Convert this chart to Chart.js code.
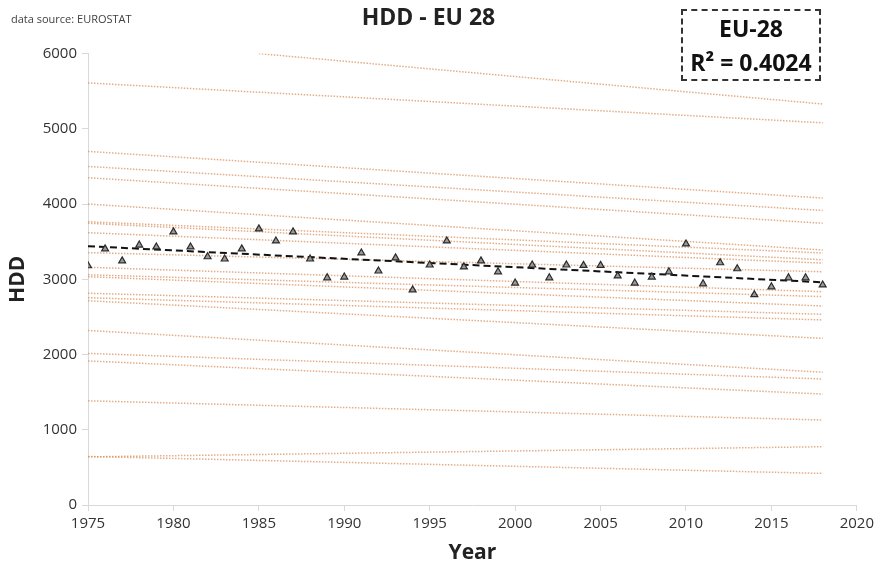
<!DOCTYPE html>
<html>
<head>
<meta charset="utf-8">
<title>HDD - EU 28</title>
<script src="https://cdn.jsdelivr.net/npm/chart.js"></script>
<style>
  body { margin: 0; background: #fff; }
  #wrap { position: relative; width: 878px; height: 568px; }
  #source {
    position: absolute; left: 11px; top: 11px;
    font: 11px 'Open Sans', sans-serif; color: #404040;
  }
  #rbox {
    position: absolute; left: 681px; top: 9px; width: 136px; height: 68px;
    border: 2px dashed #333; text-align: center;
    font-family: 'Open Sans', sans-serif; font-weight: bold;
    font-size: 23px; line-height: 34px; color: #111;
  }
</style>
</head>
<body>
<div id="wrap">
  <canvas id="chart"></canvas>
  <div id="source">data source: EUROSTAT</div>
  <div id="rbox">EU-28<br>R² = 0.4024</div>
</div>
<script>
'use strict';

// EU-28 heating degree days per year
var years = [1975, 1976, 1977, 1978, 1979, 1980, 1981, 1982, 1983, 1984,
  1985, 1986, 1987, 1988, 1989, 1990, 1991, 1992, 1993, 1994,
  1995, 1996, 1997, 1998, 1999, 2000, 2001, 2002, 2003, 2004,
  2005, 2006, 2007, 2008, 2009, 2010, 2011, 2012, 2013, 2014,
  2015, 2016, 2017, 2018];
var hdd = [3180, 3405, 3245, 3455, 3430, 3630, 3430, 3300, 3270, 3405,
  3670, 3510, 3630, 3270, 3020, 3030, 3350, 3110, 3285, 2860,
  3190, 3510, 3165, 3245, 3100, 2950, 3190, 3020, 3190, 3185,
  3185, 3045, 2950, 3030, 3100, 3470, 2940, 3220, 3140, 2795,
  2900, 3020, 3020, 2925];

// EU-28 linear trend (start / end)
var trendYears = [1975, 2018];
var trendValues = [3440, 2960];

// country trend lines, start year / start value / end value (end year 2018)
var countryStartYears = [1985, 1975, 1975, 1975, 1975, 1975, 1975, 1975, 1975, 1975,
  1975, 1975, 1975, 1975, 1975, 1975, 1975, 1975, 1975, 1975, 1975, 1975];
var countryStart = [6000, 5610, 4700, 4500, 4350, 4000, 3765, 3745, 3620, 3355,
  3160, 3060, 3035, 2815, 2755, 2715, 2320, 2015, 1915, 1385, 640, 645];
var countryEnd = [5330, 5080, 4080, 3915, 3745, 3390, 3350, 3260, 3215, 3100,
  2835, 2770, 2645, 2535, 2460, 2215, 1765, 1675, 1475, 1130, 775, 420];
var countryEndYear = 2018;

var datasets = [];

datasets.push({
  label: 'HDD',
  data: years.map(function(y, i) { return {x: y, y: hdd[i]}; }),
  showLine: false,
  pointStyle: 'triangle',
  pointRadius: 4,
  pointBackgroundColor: '#999',
  pointBorderColor: '#2b2b2b',
  pointBorderWidth: 1.2
});

datasets.push({
  label: 'Trend',
  data: trendYears.map(function(y, i) { return {x: y, y: trendValues[i]}; }),
  showLine: true,
  borderColor: '#111',
  borderWidth: 2,
  borderDash: [7, 4],
  pointRadius: 0
});

countryStart.forEach(function(v, i) {
  datasets.push({
    label: 'country ' + i,
    data: [{x: countryStartYears[i], y: v}, {x: countryEndYear, y: countryEnd[i]}],
    showLine: true,
    borderColor: 'rgba(218, 145, 95, 0.75)',
    borderWidth: 1.5,
    borderDash: [1.5, 1.5],
    pointRadius: 0
  });
});

var axisColor = '#d9d9d9';
var tickFont = {family: "'Open Sans', sans-serif", size: 15};
var titleFont = {family: "'Open Sans', sans-serif", size: 23, weight: 'bold'};
var axisTitleFont = {family: "'Open Sans', sans-serif", size: 21, weight: 'bold'};

new Chart(document.getElementById('chart'), {
  type: 'scatter',
  data: {datasets: datasets},
  options: {
    responsive: true,
    maintainAspectRatio: false,
    animation: false,
    layout: {padding: {left: 0, right: 21, top: 0, bottom: 0}},
    plugins: {
      legend: {display: false},
      tooltip: {enabled: false},
      title: {
        display: true,
        text: 'HDD - EU 28',
        color: '#222',
        font: titleFont,
        padding: {top: 5, bottom: 21}
      }
    },
    scales: {
      x: {
        type: 'linear',
        min: 1975,
        max: 2020,
        afterFit: function(scale) { scale.height = 63; },
        ticks: {stepSize: 5, color: '#333', font: tickFont, padding: 4,
          callback: function(v) { return String(v); }},
        grid: {drawOnChartArea: false, color: axisColor, tickLength: 6},
        border: {color: axisColor},
        title: {display: true, text: 'Year', color: '#222', font: axisTitleFont,
          padding: {top: 0, bottom: 2}}
      },
      y: {
        min: 0,
        max: 6000,
        afterFit: function(scale) { scale.width = 88; },
        ticks: {stepSize: 1000, color: '#333', font: tickFont, padding: 5,
          callback: function(v) { return String(v); }},
        grid: {drawOnChartArea: false, color: axisColor, tickLength: 6},
        border: {color: axisColor},
        title: {display: true, text: 'HDD', color: '#222', font: axisTitleFont,
          padding: {top: 5, bottom: 0}}
      }
    }
  }
});
</script>
</body>
</html>
